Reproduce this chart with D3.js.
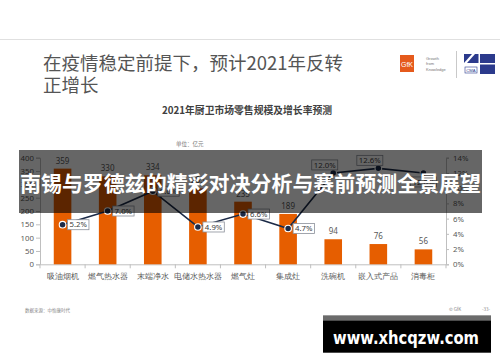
<!DOCTYPE html>
<html><head><meta charset="utf-8">
<script src="https://cdn.jsdelivr.net/npm/d3@7"></script>
<style>
html,body{margin:0;padding:0;background:#fff;}
svg{display:block;font-family:"Noto Sans CJK SC","Noto Sans",sans-serif;}
</style></head>
<body>
<svg id="c" width="500" height="362"></svg>
<script>
// ---- data ----
const categories = ["吸油烟机","燃气热水器","末端净水","电储水热水器","燃气灶","集成灶","洗碗机","嵌入式产品","消毒柜"];
const sales = [359, 330, 334, 285, 235, 189, 94, 76, 56];            // 亿元
const growth = [0.052, 0.070, 0.096, 0.049, 0.066, 0.047, 0.120, 0.126, 0.120];
const leftTicks = [0,50,100,150,200,250,300,350,400];
const rightTicks = [0,0.02,0.04,0.06,0.08,0.10,0.12,0.14];
const labelPlacement = ["right","right","right","right","right","right","above","above","below"];
const titleLines = ["在疫情稳定前提下，预计2021年反转","正增长"];
const chartTitle = "2021年厨卫市场零售规模及增长率预测";
const unitText = "单位：亿元";
const overlayText = "南锡与罗德兹的精彩对决分析与赛前预测全景展望";
const watermark = "www.xhcqzw.com";

const svg = d3.select("#c");
const grayText = "#595959";

// top rule
svg.append("line").attr("x1",0).attr("x2",500).attr("y1",39.5).attr("y2",39.5)
  .attr("stroke","#e0e0e0").attr("stroke-width",1);

// title
svg.selectAll("text.title").data(titleLines).join("text").attr("class","title")
  .attr("x",43).attr("y",(d,i)=>70+i*22).attr("font-size",18.5).attr("fill","#555")
  .text(d=>d);

// logos
const logo = svg.append("g");
logo.append("rect").attr("x",400).attr("y",55).attr("width",14).attr("height",17).attr("fill","#E55A1C");
logo.append("text").attr("x",407).attr("y",66.5).attr("text-anchor","middle").attr("font-size",7)
  .attr("fill","#fff").attr("font-family","Liberation Sans,sans-serif").text("GfK");
["Growth","from","Knowledge"].forEach((t,i)=>{
  logo.append("text").attr("x",426).attr("y",59.5+i*5.5).attr("font-size",4).attr("fill","#777")
    .attr("font-family","Liberation Sans,sans-serif").text(t);
});
logo.append("line").attr("x1",456.5).attr("x2",456.5).attr("y1",51).attr("y2",78).attr("stroke","#bbb").attr("stroke-width",0.8);
logo.append("rect").attr("x",464).attr("y",54).attr("width",14.5).attr("height",9).attr("fill","#2B3A8C");
logo.append("path").attr("d","M464,63 L472,54 L475,54 L467,63 Z").attr("fill","#fff");
logo.append("rect").attr("x",480).attr("y",54).attr("width",15).attr("height",9).attr("fill","#2B3A8C");
logo.append("rect").attr("x",480).attr("y",64.5).attr("width",15).attr("height",9.5).attr("fill","#2B3A8C");
logo.append("rect").attr("x",465).attr("y",67).attr("width",12).attr("height",6).attr("fill","#fff").attr("stroke","#2B3A8C").attr("stroke-width",0.6);
logo.append("text").attr("x",471).attr("y",72).attr("text-anchor","middle").attr("font-size",4.2)
  .attr("fill","#2B3A8C").attr("font-family","Liberation Sans,sans-serif").text("CMA");

// chart title & unit
svg.append("text").attr("x",247).attr("y",113.5).attr("text-anchor","middle").attr("font-size",9.8)
  .attr("font-weight","bold").attr("fill","#404040").text(chartTitle);
svg.append("text").attr("x",176).attr("y",146).attr("font-size",5.5).attr("fill","#777").text(unitText);

// scales
const plotL = 40, plotR = 446, plotTop = 157.7, plotBot = 264.3;
const x = d3.scaleBand().domain(categories).range([plotL, plotR]).paddingInner(0.61).paddingOuter(0.305);
const xb = d3.scaleBand().domain(categories).range([plotL, plotR]);
const yL = d3.scaleLinear().domain([0,400]).range([plotBot, plotTop]);
const yR = d3.scaleLinear().domain([0,0.14]).range([plotBot, plotTop]);

// left axis
const gL = svg.append("g").attr("transform",`translate(${plotL},0)`)
  .call(d3.axisLeft(yL).tickValues(leftTicks).tickSize(4).tickPadding(2));
gL.selectAll("text").attr("font-size",7.8).attr("fill",grayText).attr("font-family","Noto Sans,sans-serif");
gL.selectAll("line,path").attr("stroke","#bfbfbf");

// right axis
const gR = svg.append("g").attr("transform",`translate(${plotR},0)`)
  .call(d3.axisRight(yR).tickValues(rightTicks).tickFormat(d3.format(".0%")).tickSize(3).tickPadding(4));
gR.selectAll("text").attr("font-size",7.8).attr("fill",grayText).attr("font-family","Noto Sans,sans-serif");
gR.selectAll("line,path").attr("stroke","#bfbfbf");

// x axis
const gX = svg.append("g").attr("transform",`translate(0,${plotBot})`)
  .call(d3.axisBottom(xb).tickSize(0).tickPadding(9));
gX.select(".domain").attr("stroke","#bfbfbf");
gX.selectAll("text").attr("font-size",8.3).attr("fill",grayText);
svg.append("g").selectAll("line").data(d3.range(categories.length+1)).join("line")
  .attr("x1",i=>plotL+i*xb.step()).attr("x2",i=>plotL+i*xb.step())
  .attr("y1",plotBot).attr("y2",plotBot+4).attr("stroke","#bfbfbf");

// bars
svg.append("g").selectAll("rect").data(sales).join("rect")
  .attr("x",(d,i)=>x(categories[i])).attr("width",x.bandwidth())
  .attr("y",d=>yL(d)).attr("height",d=>yL(0)-yL(d)).attr("fill","#E65E00");
svg.append("g").selectAll("text").data(sales).join("text")
  .attr("x",(d,i)=>xb(categories[i])+xb.bandwidth()/2).attr("y",d=>yL(d)-5)
  .attr("text-anchor","middle").attr("font-size",8).attr("fill",grayText)
  .attr("font-family","Noto Sans,sans-serif").text(d=>d);

// line
const cx = i => xb(categories[i]) + xb.bandwidth()/2;
svg.append("path").datum(growth)
  .attr("d", d3.line().x((d,i)=>cx(i)).y(d=>yR(d)))
  .attr("fill","none").attr("stroke","#1B2A47").attr("stroke-width",1.6);
svg.append("g").selectAll("circle").data(growth).join("circle")
  .attr("cx",(d,i)=>cx(i)).attr("cy",d=>yR(d)).attr("r",3.3)
  .attr("fill","#1B2A47").attr("stroke","#fff").attr("stroke-width",1.1);

// data labels
const fmt = d3.format(".1%");
const lg = svg.append("g");
growth.forEach((d,i)=>{
  const px = cx(i), py = yR(d), t = fmt(d);
  const w = t.length*4.6 + 3, h = 10;
  let bx, by;
  if (labelPlacement[i]==="right"){ bx = px+5; by = py - h/2; }
  else if (labelPlacement[i]==="above"){ bx = px - 8.5 - w/2; by = py - 3 - h; }
  else { bx = px - w/2; by = py + 4; }
  lg.append("rect").attr("x",bx).attr("y",by).attr("width",w).attr("height",h)
    .attr("fill","#fff").attr("stroke","#8a8f99").attr("stroke-width",0.8);
  lg.append("text").attr("x",bx+w/2).attr("y",by+h/2).attr("dy","0.35em")
    .attr("text-anchor","middle").attr("font-size",7.8).attr("fill","#404040")
    .attr("font-family","Noto Sans,sans-serif").text(t);
});

// overlay band
svg.append("rect").attr("x",19).attr("y",150).attr("width",463).attr("height",63)
  .attr("fill","rgba(0,0,0,0.6)");
svg.append("text").attr("x",250.5).attr("y",183).attr("dy","0.36em").attr("text-anchor","middle")
  .attr("font-size",21).attr("font-weight","bold").attr("fill","#fff")
  .attr("textLength",461).attr("lengthAdjust","spacingAndGlyphs").text(overlayText);

// footer
svg.append("text").attr("x",25).attr("y",312).attr("font-size",4.5).attr("fill","#888").text("数据来源：中怡康时代");
svg.append("text").attr("x",449).attr("y",311).attr("font-size",4.5).attr("fill","#888").text("© GfK");
svg.append("text").attr("x",482).attr("y",311).attr("font-size",4.5).attr("fill","#888").text("-33-");

// watermark
svg.append("rect").attr("x",323).attr("y",315.7).attr("width",168).attr("height",37).attr("fill","#000");
svg.append("rect").attr("x",323).attr("y",315.7).attr("width",168).attr("height",5).attr("fill","#6b6b6b");
svg.append("text").attr("x",333).attr("y",344).attr("font-size",17).attr("font-weight","bold")
  .attr("fill","#fff").attr("font-family","DejaVu Sans,sans-serif")
  .attr("textLength",146).attr("lengthAdjust","spacingAndGlyphs").text(watermark);
</script>
</body></html>
